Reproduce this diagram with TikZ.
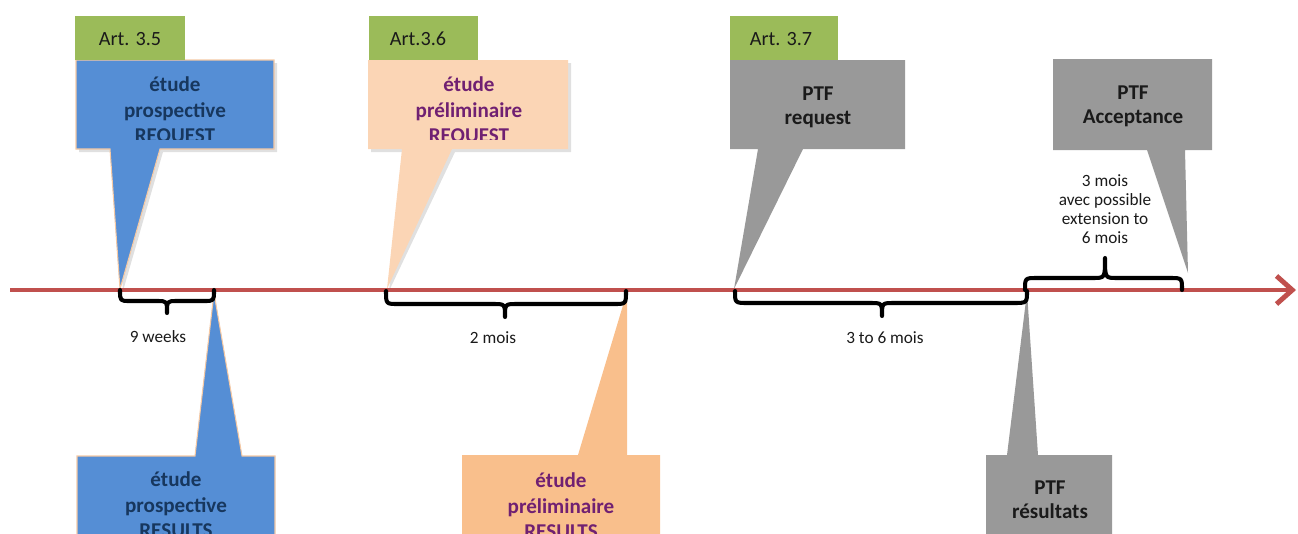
\documentclass[tikz,border=0pt]{standalone}
\usepackage{fontspec}
\setmainfont{Carlito}
\usetikzlibrary{arrows.meta}
\definecolor{axisred}{HTML}{C0504D}
\definecolor{artgreen}{HTML}{9BBB59}
\definecolor{protblue}{HTML}{558ED5}
\definecolor{protedge}{HTML}{F5C9A4}
\definecolor{navytext}{HTML}{17375E}
\definecolor{peachlight}{HTML}{FBD5B5}
\definecolor{peachdark}{HTML}{F9BF8C}
\definecolor{purpletext}{HTML}{702072}
\definecolor{calloutgray}{HTML}{999999}
\definecolor{darktext}{HTML}{1A1A1A}
\tikzset{
  x=0.02cm, y=-0.02cm,
  artlabel/.style={fill=artgreen, draw=none},
  arttext/.style={font=\fontsize{11.5}{13}\selectfont, text=darktext, inner sep=0pt},
  bluebox/.style={fill=protblue, draw=protedge, line width=0.6pt, line join=miter},
  peachtop/.style={fill=peachlight, draw=none},
  peachbot/.style={fill=peachdark, draw=none},
  graybox/.style={fill=calloutgray, draw=none},
  shadowbox/.style={fill=black, opacity=0.12, draw=none},
  boxtext/.style={font=\fontsize{12}{14.5}\selectfont\bfseries, align=center, inner sep=0pt},
  ptftext/.style={font=\fontsize{12}{13.6}\selectfont\bfseries, align=center, inner sep=0pt, text=darktext},
  durtext/.style={font=\fontsize{9.8}{10.8}\selectfont, align=center, inner sep=0pt, text=darktext},
  bracepath/.style={draw=black, line width=2.3pt, line cap=round, line join=round},
  timeline/.style={draw=axisred, line width=2.8pt, -{Straight Barb[length=9pt, width=16pt, line width=2.8pt]}}
}
\begin{document}
\begin{tikzpicture}
\useasboundingbox (0,0) rectangle (1298,534);
\clip (0,0) rectangle (1298,534);

% ---------- Upper callouts ----------
% Art. 3.5 / étude prospective REQUEST
\fill[shadowbox] (79,63) -- (277,63) -- (277,152) -- (163,152) -- (123,291) -- (113,152) -- (79,152) -- cycle;
\path[bluebox] (76,60) -- (274,60) -- (274,149) -- (160,149) -- (120,289) -- (110,149) -- (76,149) -- cycle;
\fill[artgreen] (75,16) rectangle (185,60);
\node[arttext] (art35) at (130,39) {Art. 3.5};
\begin{scope}
\clip (76,60) rectangle (274,139);
\node[boxtext, text=navytext] (reqprosp) at (175,111) {étude\\prospective\\REQUEST};
\end{scope}

% Art.3.6 / étude préliminaire REQUEST
\fill[shadowbox] (371,63) -- (571,63) -- (571,152) -- (455,152) -- (389,291) -- (405,152) -- (371,152) -- cycle;
\path[peachtop] (368,60) -- (568,60) -- (568,149) -- (452,149) -- (387,289) -- (402,149) -- (368,149) -- cycle;
\fill[artgreen] (369,16) rectangle (478,60);
\node[arttext] (art36) at (418,39) {Art.3.6};
\begin{scope}
\clip (368,60) rectangle (568,139);
\node[boxtext, text=purpletext] (reqprelim) at (469,111) {étude\\préliminaire\\REQUEST};
\end{scope}

% Art. 3.7 / PTF request
\path[graybox] (730,60) -- (905,60) -- (905,149) -- (803,149) -- (734,289) -- (758,149) -- (730,149) -- cycle;
\fill[artgreen] (730,16) rectangle (838,60);
\node[arttext] (art37) at (781,39) {Art. 3.7};
\node[ptftext] (ptfreq) at (818,107) {PTF\\request};

% PTF Acceptance
\path[graybox] (1053,59) -- (1212,59) -- (1212,150) -- (1185,150) -- (1188,273) -- (1147,150) -- (1053,150) -- cycle;
\node[ptftext] (ptfacc) at (1133,106) {PTF\\Acceptance};

% ---------- Lower callouts ----------
\path[bluebox] (77,456) -- (195,456) -- (214,293) -- (242,456) -- (275,456) -- (275,545) -- (77,545) -- cycle;
\node[boxtext, text=navytext] (resprosp) at (176,505) {étude\\prospective\\RESULTS};

\path[peachbot] (462,455) -- (578,455) -- (627,292) -- (627,455) -- (660,455) -- (660,545) -- (462,545) -- cycle;
\node[boxtext, text=purpletext] (resprelim) at (561,506) {étude\\préliminaire\\RESULTS};

\path[graybox] (986,455) -- (1007,455) -- (1027,292) -- (1038,455) -- (1112,455) -- (1112,545) -- (986,545) -- cycle;
\node[ptftext] (ptfres) at (1050,500) {PTF\\résultats};

% ---------- Timeline ----------
\coordinate (tstart) at (10,290);
\coordinate (tend) at (1296,290);
\draw[timeline] (tstart) -- (tend);

% ---------- Braces ----------
% 9 weeks
\draw[bracepath] (120,290) .. controls (120,301) .. (130,301) -- (157,301)
  .. controls (167,301) .. (167,313) .. controls (167,301) .. (177,301) -- (204,301)
  .. controls (214,301) .. (214,290);
\node[durtext] (w9) at (158,337) {9 weeks};

% 2 mois
\draw[bracepath] (386,291) .. controls (386,304) .. (398,304) -- (493,304)
  .. controls (505,304) .. (505,317) .. controls (505,304) .. (517,304) -- (614,304)
  .. controls (626,304) .. (626,291);
\node[durtext] (m2) at (493,338) {2 mois};

% 3 to 6 mois
\draw[bracepath] (735,291) .. controls (735,303) .. (748,303) -- (870,303)
  .. controls (882,303) .. (882,316) .. controls (882,303) .. (894,303) -- (1013,303)
  .. controls (1027,303) .. (1027,291);
\node[durtext] (m36) at (885,338) {3 to 6 mois};

% 3 mois (upward)
\draw[bracepath] (1025,290) .. controls (1025,278) .. (1037,278) -- (1093,278)
  .. controls (1105,278) .. (1105,258) .. controls (1105,278) .. (1117,278) -- (1170,278)
  .. controls (1182,278) .. (1182,290);
\node[durtext] (m3) at (1105,209) {3 mois\\avec possible\\extension to\\6 mois};
\end{tikzpicture}
\end{document}
